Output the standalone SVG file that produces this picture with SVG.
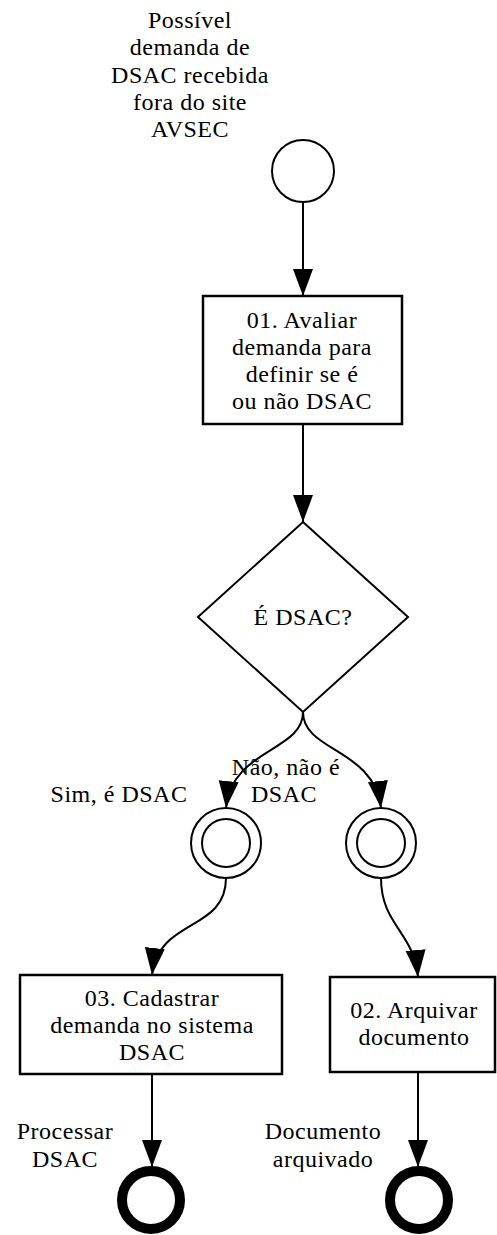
<svg xmlns="http://www.w3.org/2000/svg" width="497" height="1235" viewBox="0 0 497 1235">
<style>
text{font-family:"Liberation Serif","Times New Roman",serif;font-size:24px;letter-spacing:0.5px;fill:#000;text-anchor:middle}
.box{fill:#fff;stroke:#000;stroke-width:2.5}
.ln{fill:none;stroke:#000;stroke-width:2}
</style>
<defs>
<marker id="ah" markerUnits="userSpaceOnUse" markerWidth="28" markerHeight="22" viewBox="0 0 28 22" refX="27" refY="11" orient="auto">
<path d="M0,1 L27,11 L0,21 z" fill="#000"/>
</marker>
</defs>
<rect width="497" height="1235" fill="#fff"/>
<g id="connectors">
<path class="ln" d="M303,202 L303,296" marker-end="url(#ah)"/>
<path class="ln" d="M303,424 L303,522" marker-end="url(#ah)"/>
<path class="ln" d="M303,712 C303,752 232,748 226,808" marker-end="url(#ah)"/>
<path class="ln" d="M303,712 C303,752 374,748 381,808" marker-end="url(#ah)"/>
<path class="ln" d="M226,878 C226,932 158,918 152,975" marker-end="url(#ah)"/>
<path class="ln" d="M381,878 C381,925 414,932 418,977" marker-end="url(#ah)"/>
<path class="ln" d="M152,1074 L152,1167" marker-end="url(#ah)"/>
<path class="ln" d="M418,1072 L418,1167" marker-end="url(#ah)"/>
</g>
<g id="start">
<circle cx="303" cy="171" r="31" fill="#fff" stroke="#000" stroke-width="2"/>
<text x="190" y="28">Possível</text>
<text x="190" y="55">demanda de</text>
<text x="190" y="83">DSAC recebida</text>
<text x="190" y="110">fora do site</text>
<text x="190" y="137">AVSEC</text>
</g>
<g id="task01">
<rect class="box" x="203" y="296" width="199" height="128"/>
<text x="302" y="328">01. Avaliar</text>
<text x="302" y="355">demanda para</text>
<text x="302" y="382">definir se é</text>
<text x="302" y="409">ou não DSAC</text>
</g>
<g id="gateway">
<polygon points="303,522 408,617 303,712 198,617" fill="#fff" stroke="#000" stroke-width="2"/>
<text x="303" y="625">É DSAC?</text>
</g>
<g id="inter-sim">
<circle cx="226" cy="843" r="35" fill="#fff" stroke="#000" stroke-width="2"/>
<circle cx="226" cy="843" r="24" fill="none" stroke="#000" stroke-width="2"/>
<text x="119" y="802">Sim, é DSAC</text>
</g>
<g id="inter-nao">
<circle cx="381" cy="843" r="35" fill="#fff" stroke="#000" stroke-width="2"/>
<circle cx="381" cy="843" r="24" fill="none" stroke="#000" stroke-width="2"/>
<text x="286" y="775">Não, não é</text>
<text x="284" y="802">DSAC</text>
</g>
<g id="task03">
<rect class="box" x="20" y="975" width="262" height="99"/>
<text x="152" y="1006">03. Cadastrar</text>
<text x="152" y="1033">demanda no sistema</text>
<text x="152" y="1060">DSAC</text>
</g>
<g id="task02">
<rect class="box" x="330" y="977" width="165" height="95"/>
<text x="414" y="1018">02. Arquivar</text>
<text x="414" y="1045">documento</text>
</g>
<g id="end-processar">
<circle cx="151" cy="1200" r="29" fill="#fff" stroke="#000" stroke-width="10"/>
<text x="65" y="1139">Processar</text>
<text x="65" y="1167">DSAC</text>
</g>
<g id="end-arquivado">
<circle cx="419" cy="1200" r="29" fill="#fff" stroke="#000" stroke-width="10"/>
<text x="323" y="1139">Documento</text>
<text x="323" y="1167">arquivado</text>
</g>
</svg>
